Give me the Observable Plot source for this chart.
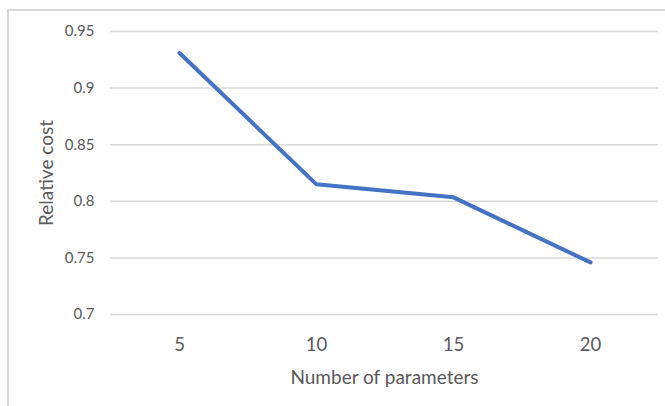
<!DOCTYPE html>
<html>
<head>
<meta charset="utf-8">
<script src="https://cdn.jsdelivr.net/npm/d3@7"></script>
<script src="https://cdn.jsdelivr.net/npm/@observablehq/plot@0.6"></script>
<style>
  html, body { margin: 0; padding: 0; background: #fff; }
  #wrap { position: relative; width: 665px; height: 406px; overflow: hidden; }
  #frame { position: absolute; left: 7px; top: 9px; width: 700px; height: 500px;
           border-left: 2px solid #d9d9d9; border-top: 2px solid #d9d9d9; pointer-events: none; }
</style>
</head>
<body>
<div id="wrap"><div id="chart"></div><div id="frame"></div></div>
<script>
const params = ["5", "10", "15", "20"];
const costs = [0.931, 0.815, 0.8035, 0.746];
const yTicks = [0.7, 0.75, 0.8, 0.85, 0.9, 0.95];
const yTickLabels = ["0.7", "0.75", "0.8", "0.85", "0.9", "0.95"];
const xTitle = "Number of parameters";
const yTitle = "Relative cost";

const data = params.map((p, i) => ({ n: p, cost: costs[i] }));
const textColor = "#595959";

const chart = Plot.plot({
  width: 665,
  height: 406,
  marginLeft: 110,
  marginRight: 7,
  marginTop: 31,
  marginBottom: 92,
  style: { fontFamily: "Lato, sans-serif", background: "transparent", color: textColor },
  x: { type: "point", domain: params, padding: 0.5 },
  y: { domain: [0.7, 0.95] },
  marks: [
    Plot.ruleY(yTicks, { stroke: "#d9d9d9", strokeWidth: 1.5 }),
    Plot.axisY({ ticks: yTicks, tickFormat: (d) => yTickLabels[yTicks.indexOf(d)], tickSize: 0, tickPadding: 16, fontSize: 15, fill: textColor, label: null }),
    Plot.axisX({ tickSize: 0, tickPadding: 23, fontSize: 18.5, fill: textColor, label: null }),
    Plot.line(data, { x: "n", y: "cost", stroke: "#4472C4", strokeWidth: 4, strokeLinejoin: "round", strokeLinecap: "round" }),
    Plot.text([xTitle], { frameAnchor: "bottom", dy: 63, lineAnchor: "middle", textAnchor: "middle", fontSize: 19, fill: textColor }),
    Plot.text([yTitle], { frameAnchor: "left", dx: -64, rotate: -90, lineAnchor: "middle", textAnchor: "middle", fontSize: 19, fill: textColor })
  ]
});
document.getElementById("chart").appendChild(chart);
</script>
</body>
</html>
